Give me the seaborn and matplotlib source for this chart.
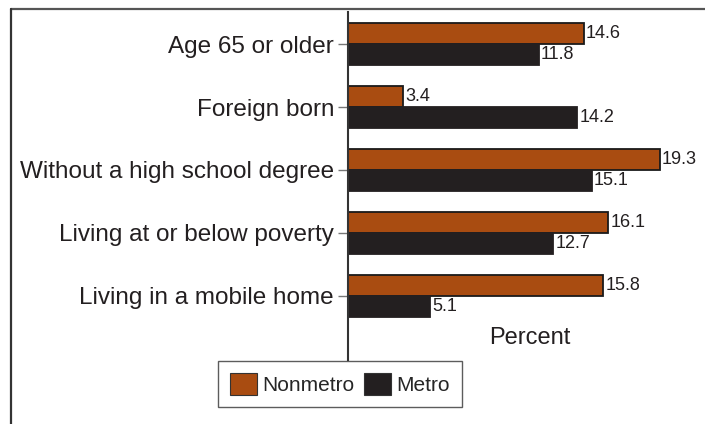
import pandas as pd
import seaborn as sns
import matplotlib.pyplot as plt
from matplotlib.patches import Patch
from matplotlib.lines import Line2D

categories = ['Age 65 or older', 'Foreign born', 'Without a high school degree',
              'Living at or below poverty', 'Living in a mobile home']
nonmetro = [14.6, 3.4, 19.3, 16.1, 15.8]
metro = [11.8, 14.2, 15.1, 12.7, 5.1]
groups = ['Nonmetro', 'Metro']
colors = ['#A94C11', '#231F20']

df = pd.DataFrame({
    'Category': categories * 2,
    'Group': ['Nonmetro'] * len(categories) + ['Metro'] * len(categories),
    'Percent': nonmetro + metro,
})

sns.set_style('white')
plt.rcParams['font.family'] = ['Liberation Sans', 'DejaVu Sans']

fig = plt.figure(figsize=(7.05, 4.24), dpi=100)
ax = fig.add_axes([348 / 705, 1 - 360 / 424, 1 - 348 / 705, (360 - 12) / 424])

sns.barplot(data=df, x='Percent', y='Category', hue='Group', hue_order=groups,
            palette=colors, orient='h', width=0.67, gap=0, ax=ax, legend=False,
            saturation=1)

for cont, col in zip(ax.containers, ['#1a1a1a', colors[1]]):
    for bar in cont:
        bar.set_edgecolor(col)
        bar.set_linewidth(1.3)
    labels = ax.bar_label(cont, fmt='%.1f', padding=1.5, fontsize=13,
                          family=['Liberation Sans Narrow', 'Liberation Sans'], color='#231F20')
    for t in labels:
        t.set_y(t.get_position()[1] + 0.03)

ax.set_xlim(0, 22.1)
ax.set_ylim(5.02, -0.51)
ax.set_xlabel('')
ax.set_ylabel('')
ax.set_xticks([])
ax.tick_params(axis='y', length=7, width=1, color='#777777', labelsize=17.5,
               pad=3, left=True, labelcolor='#231F20')
for s in ['top', 'right', 'bottom']:
    ax.spines[s].set_visible(False)
ax.spines['left'].set_color('#333333')
ax.spines['left'].set_linewidth(1.5)

ax.text(11.25, 4.67, 'Percent', ha='center', va='center', fontsize=17, color='#231F20')

# outer frame (top and left edges)
fig.add_artist(Line2D([11 / 705, 1], [1 - 9 / 424, 1 - 9 / 424], transform=fig.transFigure,
                      color='#555555', linewidth=1.6))
fig.add_artist(Line2D([11 / 705, 11 / 705], [1 - 9 / 424, 0], transform=fig.transFigure,
                      color='#333333', linewidth=1.6))

handles = [Patch(facecolor=colors[0], edgecolor='#333333', linewidth=0.8),
           Patch(facecolor=colors[1], edgecolor='#333333', linewidth=0.8)]
leg = fig.legend(handles, groups, loc='center',
                 bbox_to_anchor=(340 / 705, 1 - 384 / 424),
                 ncol=2, fontsize=15, frameon=True, fancybox=False,
                 handlelength=1.3, handleheight=1.25, handletextpad=0.25,
                 columnspacing=0.45, borderpad=0.58, borderaxespad=0)
leg.get_frame().set_edgecolor('#333333')
leg.get_frame().set_linewidth(1.0)

fig.savefig('out.png', dpi=100)
